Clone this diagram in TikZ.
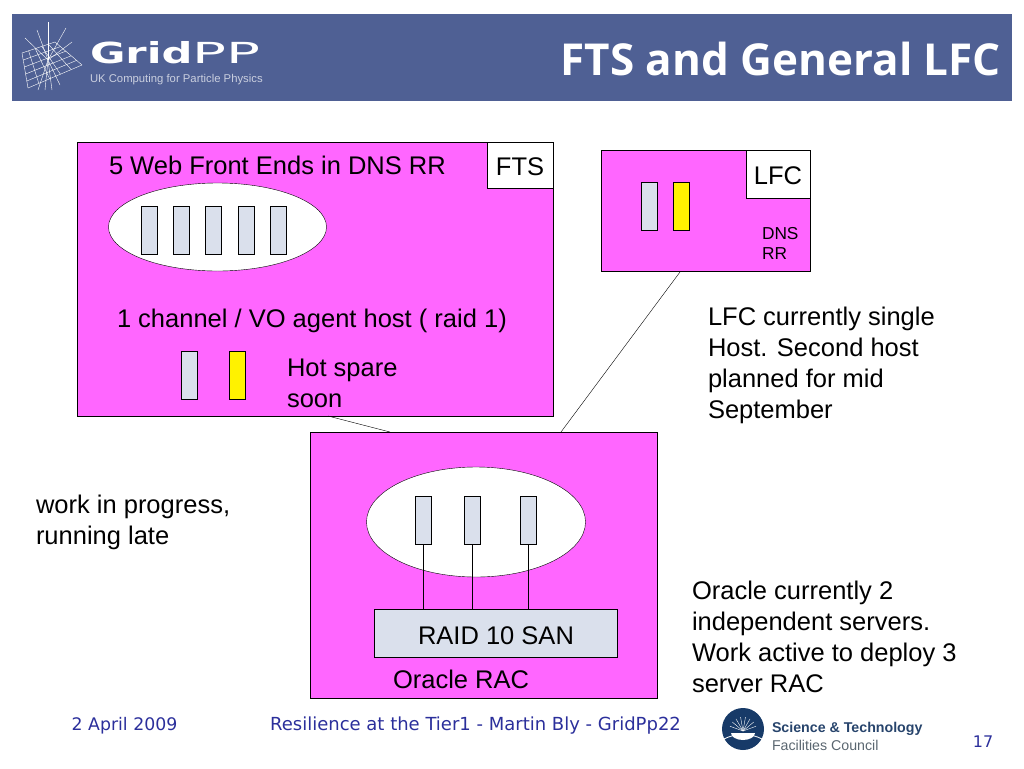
\documentclass[tikz,border=0pt]{standalone}
\usepackage{fontspec}
\setmainfont{Liberation Sans}
\newfontfamily\slidefont{DejaVu Sans}
\newfontfamily\titlefont{Open Sans}
\usetikzlibrary{calc,positioning,shapes.geometric}
\definecolor{banner}{HTML}{4F6094}
\definecolor{pinkbox}{HTML}{FF66FF}
\definecolor{hostblue}{HTML}{DAE0EC}
\definecolor{footblue}{HTML}{2B2F9B}
\definecolor{stfcnavy}{HTML}{173A68}
\definecolor{stfcgrey}{HTML}{5A6670}
\tikzset{
  every node/.style={inner sep=0pt, outer sep=0pt},
  zone/.style={draw=black, fill=pinkbox, anchor=north west, line width=0.5pt},
  tagbox/.style={draw=black, fill=white, text height=22pt, font=\fontsize{25.5}{25.5}\selectfont},
  pool/.style={draw=black, fill=white, ellipse},
  host/.style={draw=black, fill=hostblue, minimum width=16pt, minimum height=48pt},
  hostspare/.style={host, fill=yellow},
  note/.style={anchor=north west, align=left, font=\fontsize{25.5}{31}\selectfont},
  foot/.style={text=footblue, font=\slidefont\fontsize{17.3}{17.3}\selectfont},
}
\begin{document}
\begin{tikzpicture}[x=1pt, y=-1pt]
  \useasboundingbox (0,0) rectangle (1024,768);
  % header
  \fill[banner] (12,14) rectangle (1012,101);
  \node[anchor=east, text=white, font=\titlefont\bfseries\fontsize{44}{44}\selectfont] (title) at (1001,59) {FTS and General LFC};
  \node[anchor=west, text=white, font=\slidefont\bfseries\fontsize{29}{29}\selectfont] (logo) at (90,53) {\scalebox{1.49}[1]{Grid}};
  \node[anchor=west, text=white, font=\slidefont\fontsize{29}{29}\selectfont] (logopp) at (logo.east) {\scalebox{1.94}[1]{PP}};
  \node[anchor=west, text=white!70!banner, font=\fontsize{11.3}{11.3}\selectfont] (logosub) at (90,80) {UK Computing for Particle Physics};
  % star mark of the logo
  \coordinate (gl) at (22,53);
  \coordinate (gt) at (55,42);
  \coordinate (gr) at (82,65);
  \coordinate (gb) at (28,88);
  \foreach \t in {0,0.2,...,1.01} {
    \draw[white, thin] ($(gl)!\t!(gt)$) -- ($(gb)!\t!(gr)$);
    \draw[white, thin] ($(gl)!\t!(gb)$) -- ($(gt)!\t!(gr)$);
  }
  \foreach \px/\py in {48/22,37/30,66/28,25/38,72/42,45/90,52/90,38/90,60/85}
    \draw[white, thin] (48,60) -- (\px,\py);
  % FTS
  \node[zone, minimum width=476pt, minimum height=274pt] (fts) at (77,142) {};
  \node[tagbox, anchor=north east, minimum width=66pt, minimum height=46pt] (ftstag) at (553,142) {FTS};
  \node[note] (wfe) at (109,156.5) {5 Web Front Ends in DNS RR};
  \node[pool, minimum width=218pt, minimum height=88pt] (webpool) at (217.5,227) {};
  \foreach \i/\x in {1/149,2/181,3/213,4/246,5/278}
    \node[host] (web\i) at (\x,230) {};
  \node[note] (agent) at (117,309) {1 channel / VO agent host ( raid 1)};
  \node[host] (agenthost) at (189,375.5) {};
  \node[hostspare] (agentspare) at (237.5,375.5) {};
  \node[note] (spare) at (287,358.5) {Hot spare\\soon};
  % LFC
  \node[zone, minimum width=209pt, minimum height=121pt] (lfc) at (601,150) {};
  \node[tagbox, anchor=north east, minimum width=64pt, minimum height=48pt] (lfctag) at (810,150) {LFC};
  \node[host] (lfchost) at (649,206) {};
  \node[hostspare] (lfcspare) at (681,206) {};
  \node[note, font=\fontsize{17.3}{20.5}\selectfont] (dns) at (762,227) {DNS\\RR};
  % links between zones
  \coordinate (ftslink) at (328,416);
  \coordinate (raclink) at (390,432);
  \coordinate (lfclink) at (680,272);
  \coordinate (raclink2) at (561,432);
  \draw (ftslink) -- (raclink);
  \draw (lfclink) -- (raclink2);
  % Oracle
  \node[zone, minimum width=347pt, minimum height=266pt] (rac) at (310,432) {};
  \node[pool, minimum width=219pt, minimum height=110pt] (racpool) at (476,522) {};
  \foreach \i/\x in {1/423.5,2/472,3/528}
    \node[host] (db\i) at (\x,520.5) {};
  \node[draw=black, fill=hostblue, minimum width=243pt, minimum height=48pt, text height=22pt, font=\fontsize{25.5}{25.5}\selectfont] (san) at (496,633.5) {RAID 10 SAN};
  \foreach \i in {1,2,3}
    \draw (db\i.south) -- (db\i.south |- san.north);
  \node[note] (oracle) at (393,670) {Oracle RAC};
  % notes
  \node[note] (lfcnote) at (708,307.5) {LFC currently single\\Host. Second host\\planned for mid\\September};
  \node[note] (late) at (36,495) {work in progress,\\running late};
  \node[note] (oranote) at (692,581) {Oracle currently 2\\independent servers.\\Work active to deploy 3\\server RAC};
  % footer
  \node[foot] (date) at (124.5,726) {2 April 2009};
  \node[foot, font=\slidefont\fontsize{18}{18}\selectfont] (talk) at (475.5,726) {Resilience at the Tier1 - Martin Bly - GridPp22};
  \node[foot, font=\slidefont\fontsize{16}{16}\selectfont] (page) at (983,742) {17};
  \node[anchor=west, font=\bfseries\fontsize{14.2}{14.2}\selectfont, text=stfcnavy!85!gray] (stfc1) at (772,729) {Science \& Technology};
  \node[anchor=west, font=\fontsize{14.2}{14.2}\selectfont, text=stfcgrey] (stfc2) at (772,745) {Facilities Council};
  % round mark of the council
  \fill[stfcnavy] (743,729) circle (21);
  \foreach \a in {20,40,...,160}
    \draw[white, thin] (743,731) -- ++(-\a:14);
  \fill[white] (731,733) arc (180:360:12 and -7) -- cycle;
  \draw[white, thick] (724,739) .. controls (735,733) and (751,733) .. (762,739);
\end{tikzpicture}
\end{document}
